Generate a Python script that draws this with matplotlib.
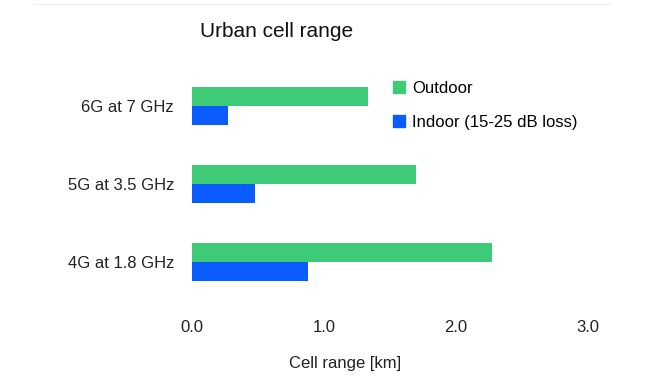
import matplotlib
matplotlib.use('Agg')
import matplotlib.pyplot as plt
from matplotlib.lines import Line2D
from matplotlib.patches import Patch

plt.rcParams['font.family'] = ['Liberation Sans', 'DejaVu Sans']

# data
categories = ['4G at 1.8 GHz', '5G at 3.5 GHz', '6G at 7 GHz']
outdoor = [2.27, 1.70, 1.33]
indoor = [0.88, 0.48, 0.27]
green = '#3dcb78'
blue = '#0a5cff'

fig = plt.figure(figsize=(6.7, 3.82), dpi=100)
ax = fig.add_axes([0.2866, 0.212, 0.591, 0.6126])

pos = list(range(len(categories)))
h = 0.245
ax.barh([p + h / 2 for p in pos], outdoor, height=h, color=green)
ax.barh([p - h / 2 for p in pos], indoor, height=h, color=blue)

ax.set_xlim(0, 3)
ax.set_ylim(-0.5, 2.5)
ax.set_xticks([0, 1, 2, 3])
ax.set_xticklabels(['0.0', '1.0', '2.0', '3.0'])
ax.set_yticks(pos)
ax.set_yticklabels(categories)
ax.tick_params(axis='x', length=0, pad=14, labelsize=12, colors='#222222')
ax.tick_params(axis='y', length=0, pad=13, labelsize=12, colors='#222222')
for s in ax.spines.values():
    s.set_visible(False)

ax.set_xlabel('Cell range [km]', fontsize=12, color='#222222')
ax.xaxis.set_label_coords(0.386, -0.237)
fig.text(0.413, 0.918, 'Urban cell range', fontsize=15, ha='center', va='center', color='#111111')

handles = [Patch(color=green), Patch(color=blue)]
ax.legend(handles, ['Outdoor', 'Indoor (15-25 dB loss)'], loc='upper left',
          bbox_to_anchor=(0.47, 1.006), frameon=False, fontsize=12,
          handlelength=0.7, handleheight=0.7, handletextpad=0.45, labelspacing=1.15)

fig.add_artist(Line2D([0.05, 0.91], [0.99, 0.99], color='#f0f0f0', lw=1))

fig.savefig('out.png', dpi=100)
